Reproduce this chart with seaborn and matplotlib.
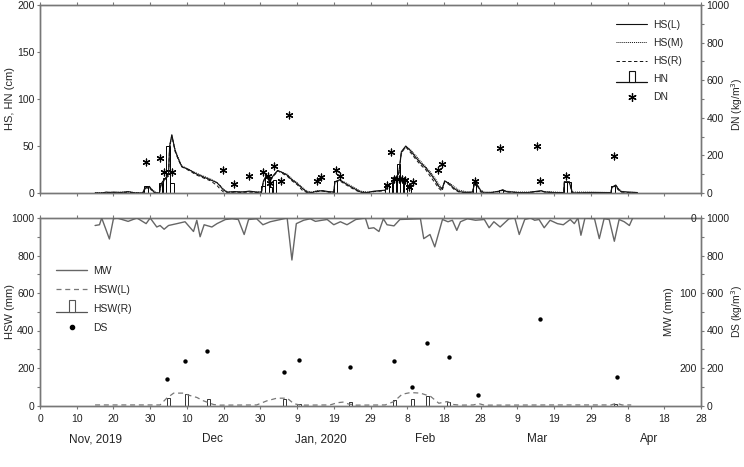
import matplotlib
matplotlib.use('Agg')
import matplotlib.pyplot as plt
import seaborn as sns
from matplotlib.lines import Line2D
from matplotlib.patches import Rectangle
from matplotlib.legend_handler import HandlerBase
from matplotlib.ticker import MultipleLocator
import matplotlib.transforms as mtransforms

# days counted from 31 Oct 2019 (= "Nov 0")
hs_day = [15, 17, 18, 19, 20, 22, 24, 26, 28, 28.5, 29.8, 30.5, 31.4, 32.5, 33, 34, 35, 35.3, 35.9,
          36.8, 37.7, 38.6, 40.5, 42.7, 44.5, 46.4, 48.2, 49.1, 50, 51, 53, 55, 57, 59, 60.3, 60.8,
          61.4, 62.7, 63.6, 64.7, 65.9, 67.3, 68.6, 70, 71.4, 72.7, 74, 75.5, 77, 78.5, 80, 80.3,
          81.6, 83.2, 84.5, 85.9, 87.3, 89, 91, 92.5, 94, 95, 96, 97, 97.7, 98.4, 99.6, 100.9,
          102.3, 103.6, 105, 106.4, 107.7, 108.6, 109.5, 110.2, 111.4, 112.7, 114.1, 116, 117.8,
          118.3, 118.9, 120, 121, 123, 125, 126, 127, 130, 133, 135.5, 136.5, 137.5, 140, 142.6,
          142.8, 144.1, 145, 150, 155.5, 155.7, 156.8, 157.3, 158.2, 160, 162.7]
hs_l = [0, 0, 1, 0.5, 1, 0.5, 1.5, 0, 0, 5, 7, 3, 0, 0, 10, 15, 20, 50, 62,
        45, 36, 28, 25, 20, 17, 14, 11, 7, 3, 1, 1.5, 1, 2, 1, 1, 12,
        17, 14, 19, 24, 22, 19, 14, 10, 5, 1, 0.5, 2, 2.5, 1.5, 1, 12,
        14, 10, 7, 4, 1, 0.5, 2, 2.5, 3, 9, 11, 17, 21, 44, 50, 45,
        38, 32, 27, 20, 13, 7, 4, 13, 10, 5, 1.5, 0.5, 1,
        10, 10, 2.5, 0, 0.5, 2, 3.5, 1.5, 0.5, 0.5, 2, 2.5, 1, 0.5, 0.5,
        12, 12, 0, 0.5, 0.5, 6, 8.5, 5, 1.5, 1, 0.5]
hs_m = [0, 0.5, 0.5, 1, 0.5, 1, 1, 0.5, 0, 4, 6, 4, 1, 0, 9, 14, 19, 48, 60,
        46, 37, 29, 25, 21, 18, 15, 11, 8, 4, 1, 1, 1.5, 1.5, 1, 1, 11,
        16, 15, 18, 23, 22, 20, 15, 11, 6, 2, 1, 2.5, 2, 1, 1, 11,
        14, 11, 8, 5, 2, 1, 1.5, 2, 3, 8, 11, 16, 20, 42, 49, 46,
        40, 34, 28, 22, 15, 9, 5, 12, 11, 7, 3, 1.5, 1,
        9, 10, 3, 1, 1, 1.5, 3, 2, 1, 1, 1.5, 2, 1.5, 1, 0.5,
        11, 12, 1, 1, 0.5, 5, 8, 6, 2, 1, 0.5]
hs_r = [0, 0, 0.5, 0, 0.5, 0, 1, 0, 0, 5, 6, 2, 0, 0, 10, 15, 18, 50, 61,
        44, 35, 28, 24, 19, 16, 13, 8, 4, 1, 0, 1, 0.5, 1, 0.5, 0.5, 12,
        17, 13, 18, 24, 21, 18, 13, 9, 3, 0.5, 0, 1.5, 2, 1, 0.5, 12,
        13, 9, 6, 3, 0.5, 0, 1.5, 2, 2.5, 9, 10, 17, 20, 43, 49, 43,
        36, 30, 25, 17, 10, 5, 2, 12, 9, 4, 1, 0.5, 0.5,
        10, 9, 1, 0, 0.5, 1.5, 3, 1, 0.5, 0.5, 1.5, 2, 1, 0.5, 0.5,
        12, 11, 0, 0.5, 0.5, 6, 8, 4, 1, 0.5, 0]

hn_day = [28.9, 32.8, 33.9, 34.9, 35.9, 60.7, 61.8, 62.8, 63.8, 80.5, 94.5, 95.5, 96.6, 97.6,
          98.5, 99.5, 100.5, 118.3, 125.5, 143.2, 144.1, 156]
hn = [7, 11, 16, 50, 11, 7, 18, 6, 14, 13, 9, 11, 17, 31, 16, 15, 8, 10, 3, 12, 12, 7]

dn_day = [28.8, 32.7, 33.8, 35.9, 49.7, 52.7, 56.8, 60.7, 62, 62.7, 63.6, 65.6, 67.7, 75.5,
          76.6, 80.6, 81.6, 94.6, 95.5, 96.5, 97.7, 98.6, 99.5, 100.4, 101.5, 108.5, 109.5,
          118.4, 125.2, 135.3, 136.2, 143.2, 156.2]
dn = [166, 188, 110, 113, 120, 46, 90, 110, 90, 55, 144, 62, 416, 62,
      85, 123, 90, 44, 220, 76, 72, 72, 70, 30, 60, 122, 154,
      65, 241, 252, 66, 92, 199]

mw_day = [15, 16.2, 16.8, 18.9, 20, 21, 24, 26.4, 28.9, 30, 31.8, 32.7, 33.8, 35, 37.3, 39.5,
          41.8, 42.7, 43.6, 44.7, 46.8, 48.2, 50.5, 52.3, 54, 55.6, 56.8, 59, 60.7, 62.7, 65.5,
          67.3, 68.6, 69.8, 71.8, 73.6, 75, 76.8, 78.2, 80, 81.8, 83.6, 86, 88.6, 89.5, 90.9,
          92.3, 93.5, 94.5, 96.4, 98, 103.6, 104.5, 106.2, 107.5, 109.6, 111.1, 112.3, 113.5,
          114.5, 116.4, 118.6, 121, 122.3, 123.6, 125.3, 127.7, 129.3, 130.5, 132, 133.6,
          134.7, 135.9, 137.3, 138.9, 140.9, 142.5, 144.4, 145.5, 146.5, 147.3, 148.4, 151,
          152.3, 153.6, 155, 156.4, 157.7, 159.1, 160.5, 161.4]
mw = [10, 9, 0, 28, 1, 0, 4.5, 0, 7.5, 0, 12, 10, 15, 10, 7.5, 5,
      18, 3, 25, 9, 12, 7.5, 2, 1, 2, 22, 2, 1, 9, 5, 2,
      0, 56, 7.5, 3, 1, 4.5, 3, 2, 9, 5, 9, 2, 0, 14, 13,
      18, 1, 9, 10.5, 2, 1, 27.5, 22, 38.5, 2, 5, 3, 16.5,
      5, 1, 3, 2, 13, 5, 12, 1, 0, 22, 2, 0,
      3, 2, 13, 3, 7.5, 9, 2, 7.5, 0, 23, 0, 1,
      27.5, 1, 2, 31, 2, 5, 10, 0]

hswl_day = [15, 25, 32.7, 34.5, 36.4, 39.1, 40.5, 42.7, 44.5, 47.3, 49, 59, 61.8, 64.5, 67.3,
            69.1, 70.9, 79, 81, 82.5, 84, 86, 94, 96.4, 98.6, 100.9, 103.6, 106.4, 108.6,
            110.9, 112.7, 114.5, 118, 119.5, 121, 140, 155.5, 157, 158.5, 161]
hswl = [3, 3, 3, 39, 66, 66, 55, 43, 25, 5, 2, 3, 25, 39, 39,
        10, 2, 3, 15, 18, 8, 2, 3, 21, 60, 69, 66, 48, 12,
        21, 5, 2, 3, 10, 2, 3, 3, 12, 3, 3]

hswr_day = [35, 39.9, 45.9, 66.6, 70.5, 84.5, 96.5, 101.5, 105.5, 111.3, 156.8]
hswr = [40, 60, 35, 36, 8, 17, 27, 36, 53, 21, 10]

ds_day = [34.5, 39.6, 45.6, 66.5, 70.5, 84.4, 96.4, 101.4, 105.3, 111.4, 119.3, 136.2, 157.1]
ds = [141, 235, 292, 181, 244, 203, 240, 101, 336, 261, 57, 463, 153]

x_ticks = list(range(0, 181, 10))
x_labels = ['0', '10', '20', '30', '10', '20', '30', '9', '19', '29',
            '8', '18', '28', '9', '19', '29', '8', '18', '28']
months = ['Nov, 2019', 'Dec', 'Jan, 2020', 'Feb', 'Mar', 'Apr']
month_pos = [15, 47, 76.5, 105, 135.5, 166]


class BarOnLine(HandlerBase):
    def __init__(self, color='k'):
        super().__init__()
        self.color = color

    def create_artists(self, legend, orig_handle, xdescent, ydescent, width, height, fontsize, trans):
        x0, y0 = -xdescent, -ydescent
        line = Line2D([x0, x0 + width], [y0, y0], color=self.color, lw=0.9, transform=trans)
        w = width * 0.2
        rect = Rectangle((x0 + width / 2 - w / 2, y0), w, height * 1.6, facecolor='white',
                         edgecolor=self.color, lw=0.8, transform=trans)
        return [line, rect]


sns.set_style('ticks')
plt.rcParams['font.family'] = ['Liberation Sans', 'DejaVu Sans']
plt.rcParams['axes.edgecolor'] = '#777777'
plt.rcParams['xtick.color'] = '#777777'
plt.rcParams['ytick.color'] = '#777777'
plt.rcParams['xtick.labelcolor'] = '#222222'
plt.rcParams['ytick.labelcolor'] = '#222222'
plt.rcParams['axes.linewidth'] = 1.0

fig = plt.figure(figsize=(7.44, 4.67), dpi=100)
W, H = 744, 467
ax1 = fig.add_axes([40 / W, 1 - 193 / H, 661 / W, 188 / H])
ax2 = fig.add_axes([40 / W, 1 - 405.5 / H, 661 / W, 187.5 / H])

tick_fs = 7.5
tl = 2.5
star = (6, 2, 0)

# ---- top panel: snow depth / new snow / new snow density
ax1.bar(hn_day, hn, width=0.95, color='white', edgecolor='k', linewidth=0.7, zorder=2)
sns.lineplot(x=hs_day, y=hs_l, ax=ax1, color='#111111', lw=0.8, estimator=None, sort=False, zorder=3)
sns.lineplot(x=hs_day, y=hs_m, ax=ax1, color='#111111', lw=0.7, linestyle=(0, (1, 1)),
             estimator=None, sort=False, zorder=3)
sns.lineplot(x=hs_day, y=hs_r, ax=ax1, color='#111111', lw=0.7, linestyle=(0, (3.5, 2.5)),
             estimator=None, sort=False, zorder=3)
ax1.set_xlim(0, 180)
ax1.set_ylim(0, 200)
ax1.set_yticks([0, 50, 100, 150, 200])
ax1.set_xticks(x_ticks)
ax1.set_xticklabels([])
ax1.tick_params(axis='x', which='both', top=True, direction='out', length=tl, width=0.8, labelsize=tick_fs)
ax1.tick_params(axis='y', direction='out', length=tl, width=0.8, pad=1.5, labelsize=tick_fs)
ax1.set_ylabel('HS, HN (cm)', fontsize=8)
ax1.yaxis.set_label_coords((15 - 40) / 661, 0.5)

ax1r = ax1.twinx()
sns.scatterplot(x=dn_day, y=dn, ax=ax1r, marker=star, s=24, color='k', linewidth=0.9, zorder=4)
ax1r.set_ylim(0, 1000)
ax1r.set_yticks(range(0, 1001, 200))
ax1r.yaxis.set_minor_locator(MultipleLocator(100))
ax1r.tick_params(axis='y', which='both', direction='out', length=tl, width=0.8, pad=1.5, labelsize=tick_fs)
ax1r.tick_params(axis='y', which='minor', length=2)
ax1r.set_ylabel('DN (kg/m$^3$)', fontsize=7.5)
ax1r.yaxis.set_label_coords((729 - 40) / 661, 0.47)

top_handles = [
    Line2D([], [], color='#111111', lw=0.8),
    Line2D([], [], color='#111111', lw=0.7, linestyle=(0, (1, 1))),
    Line2D([], [], color='#111111', lw=0.7, linestyle=(0, (3.5, 2.5))),
    Rectangle((0, 0), 1, 1),
    Line2D([], [], color='k', marker=star, markersize=6, linestyle='none', markeredgewidth=0.9),
]
ax1r.legend(top_handles, ['HS(L)', 'HS(M)', 'HS(R)', 'HN', 'DN'],
            handler_map={top_handles[3]: BarOnLine('#111111')},
            loc='upper left', bbox_to_anchor=(616 / W, 1 - 20 / H), bbox_transform=fig.transFigure,
            frameon=False, fontsize=7.5, handlelength=3.0, handletextpad=0.6, labelspacing=0.78,
            borderpad=0, borderaxespad=0)

# ---- bottom panel: snow water / melt water / snow density
ax2.bar(hswr_day, hswr, width=0.9, color='white', edgecolor='#333333', linewidth=0.7, zorder=2)
sns.lineplot(x=hswl_day, y=hswl, ax=ax2, color='#777777', lw=0.9, linestyle=(0, (4, 3)),
             estimator=None, sort=False, zorder=3)
ax2.set_xlim(0, 180)
ax2.set_ylim(0, 1000)
ax2.set_yticks(range(0, 1001, 200))
ax2.yaxis.set_minor_locator(MultipleLocator(100))
ax2.set_xticks(x_ticks)
ax2.set_xticklabels(x_labels)
ax2.tick_params(axis='x', which='both', top=True, direction='out', length=tl, width=0.8, pad=3.5,
                labelsize=tick_fs)
ax2.tick_params(axis='y', which='both', direction='out', length=tl, width=0.8, pad=1.5, labelsize=tick_fs)
ax2.tick_params(axis='y', which='minor', length=2)
ax2.set_ylabel('HSW (mm)', fontsize=8)
ax2.yaxis.set_label_coords((15 - 40) / 661, 0.5)

ax2d = ax2.twinx()
sns.scatterplot(x=ds_day, y=ds, ax=ax2d, marker='o', s=10, color='k', linewidth=0, zorder=4)
ax2d.set_ylim(0, 1000)
ax2d.set_yticks(range(0, 1001, 200))
ax2d.yaxis.set_minor_locator(MultipleLocator(100))
ax2d.tick_params(axis='y', which='both', direction='out', length=tl, width=0.8, pad=1.5, labelsize=tick_fs)
ax2d.tick_params(axis='y', which='minor', length=2)
ax2d.set_ylabel('DS (kg/m$^3$)', fontsize=7.5)
ax2d.yaxis.set_label_coords((729 - 40) / 661, 0.5)

ax2m = ax2.twinx()
sns.lineplot(x=mw_day, y=mw, ax=ax2m, color='#666666', lw=1.0, estimator=None, sort=False, zorder=3)
ax2m.set_ylim(250, 0)
ax2m.set_yticks([0, 100, 200], labels=['0', '100', '200'], ha='right')
ax2m.tick_params(axis='y', direction='in', length=0, pad=-3, labelsize=tick_fs)
for sp in ax2m.spines.values():
    sp.set_visible(False)
ax2m.set_ylabel('MW (mm)', fontsize=8)
ax2m.yaxis.set_label_coords((664 - 40) / 661, 0.5)

bot_handles = [
    Line2D([], [], color='#666666', lw=1.0),
    Line2D([], [], color='#777777', lw=0.9, linestyle=(0, (4, 3))),
    Rectangle((0, 0), 1, 1),
    Line2D([], [], color='k', marker='o', markersize=3, linestyle='none'),
]
ax2m.legend(bot_handles, ['MW', 'HSW(L)', 'HSW(R)', 'DS'],
            handler_map={bot_handles[2]: BarOnLine('#555555')},
            loc='upper left', bbox_to_anchor=(56 / W, 1 - 266 / H), bbox_transform=fig.transFigure,
            frameon=False, fontsize=7.5, handlelength=3.0, handletextpad=0.6, labelspacing=0.85,
            borderpad=0, borderaxespad=0)

trans = mtransforms.blended_transform_factory(ax2.transData, fig.transFigure)
for pos, name in zip(month_pos, months):
    ax2.text(pos, 1 - 439 / H, name, transform=trans, ha='center', va='center',
             fontsize=8.5, color='#222222')

for a in (ax1, ax1r, ax2, ax2d, ax2m):
    a.set_xlabel('')

plt.savefig('out.png', dpi=100)
plt.close()
